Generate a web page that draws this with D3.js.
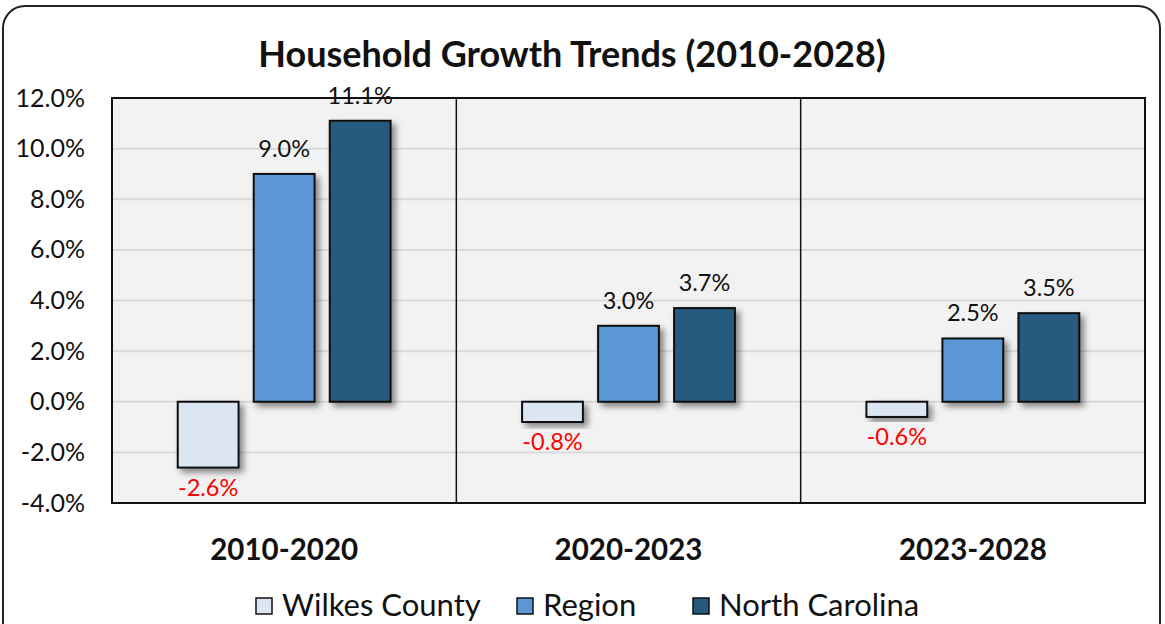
<!DOCTYPE html>
<html>
<head>
<meta charset="utf-8">
<script src="https://cdn.jsdelivr.net/npm/d3@7"></script>
<style>
  body { margin: 0; background: #fff; }
  svg { display: block; font-family: Lato, "Open Sans", sans-serif; }
</style>
</head>
<body>
<script>
// Chart data
const categories = ["2010-2020", "2020-2023", "2023-2028"];
const series = ["Wilkes County", "Region", "North Carolina"];
const wilkes = [-2.6, -0.8, -0.6];
const region = [9.0, 3.0, 2.5];
const northCarolina = [11.1, 3.7, 3.5];
const yTicks = [-4, -2, 0, 2, 4, 6, 8, 10, 12];
const colors = ["#dce6f2", "#5b97d5", "#255a7e"];

const width = 1165, height = 624;
const margin = {top: 98, right: 20, bottom: 121, left: 112};

const svg = d3.select("body").append("svg")
    .attr("width", width)
    .attr("height", height);

// drop shadow for bars
const defs = svg.append("defs");
defs.append("filter")
    .attr("id", "shadow")
    .attr("x", "-20%").attr("y", "-20%")
    .attr("width", "150%").attr("height", "150%")
  .append("feDropShadow")
    .attr("dx", 4).attr("dy", 4)
    .attr("stdDeviation", 3)
    .attr("flood-color", "#000")
    .attr("flood-opacity", 0.45);

// outer rounded frame
svg.append("rect")
    .attr("x", 3).attr("y", 6)
    .attr("width", 1157).attr("height", 700)
    .attr("rx", 22)
    .attr("fill", "none")
    .attr("stroke", "#222")
    .attr("stroke-width", 2);

// title
svg.append("text")
    .attr("x", 572).attr("y", 67)
    .attr("text-anchor", "middle")
    .attr("font-size", 36)
    .attr("font-weight", "bold")
    .attr("fill", "#111")
    .text("Household Growth Trends (2010-2028)");

const x0 = d3.scaleBand()
    .domain(categories)
    .range([margin.left, width - margin.right])
    .padding(0);

const x1 = d3.scaleBand()
    .domain(series)
    .range([0, x0.bandwidth()])
    .paddingInner(0.2)
    .paddingOuter(0.865);

const y = d3.scaleLinear()
    .domain([-4, 12])
    .range([height - margin.bottom, margin.top]);

// plot background
svg.append("rect")
    .attr("x", margin.left).attr("y", margin.top)
    .attr("width", width - margin.left - margin.right)
    .attr("height", height - margin.top - margin.bottom)
    .attr("fill", "#f2f2f2");

// gridlines
svg.append("g")
    .selectAll("line")
    .data(yTicks)
    .join("line")
    .attr("x1", margin.left).attr("x2", width - margin.right)
    .attr("y1", d => y(d)).attr("y2", d => y(d))
    .attr("stroke", "#d9d9d9")
    .attr("stroke-width", 2);

// y axis labels
const yAxis = svg.append("g")
    .attr("transform", `translate(${margin.left},0)`)
    .call(d3.axisLeft(y).tickValues(yTicks).tickSize(0).tickPadding(27)
        .tickFormat(d => d.toFixed(1) + "%"));
yAxis.select(".domain").remove();
yAxis.selectAll("text")
    .attr("font-family", "Lato, sans-serif")
    .attr("font-size", 25)
    .attr("fill", "#111");

// category separators
svg.append("g")
    .selectAll("line")
    .data(categories.slice(1))
    .join("line")
    .attr("x1", d => x0(d)).attr("x2", d => x0(d))
    .attr("y1", margin.top).attr("y2", height - margin.bottom)
    .attr("stroke", "#111")
    .attr("stroke-width", 1.5);

// bars
const rows = categories.map((c, i) => ({
  category: c,
  values: [wilkes[i], region[i], northCarolina[i]]
}));

const groups = svg.append("g")
    .selectAll("g")
    .data(rows)
    .join("g")
    .attr("transform", d => `translate(${x0(d.category)},0)`);

groups.selectAll("rect")
    .data(d => d.values.map((v, j) => ({key: series[j], value: v, idx: j})))
    .join("rect")
    .attr("x", d => x1(d.key))
    .attr("width", x1.bandwidth())
    .attr("y", d => y(Math.max(0, d.value)))
    .attr("height", d => Math.abs(y(d.value) - y(0)))
    .attr("fill", d => colors[d.idx])
    .attr("stroke", "#111")
    .attr("stroke-width", 2)
    .attr("filter", "url(#shadow)");

// value labels
groups.selectAll("text")
    .data(d => d.values.map((v, j) => ({key: series[j], value: v, idx: j})))
    .join("text")
    .attr("x", d => x1(d.key) + x1.bandwidth() / 2)
    .attr("y", d => d.value < 0 ? y(d.value) + 28 : y(d.value) - 17)
    .attr("text-anchor", "middle")
    .attr("font-size", 23.5)
    .attr("fill", d => d.value < 0 ? "#ff0000" : "#111")
    .text(d => d.value.toFixed(1) + "%");

// plot border
svg.append("rect")
    .attr("x", margin.left).attr("y", margin.top)
    .attr("width", width - margin.left - margin.right)
    .attr("height", height - margin.top - margin.bottom)
    .attr("fill", "none")
    .attr("stroke", "#111")
    .attr("stroke-width", 2);

// category labels
svg.append("g")
    .selectAll("text")
    .data(categories)
    .join("text")
    .attr("x", d => x0(d) + x0.bandwidth() / 2)
    .attr("y", 560)
    .attr("text-anchor", "middle")
    .attr("font-size", 29.5)
    .attr("font-weight", "bold")
    .attr("fill", "#111")
    .text(d => d);

// legend
const legendX = [256, 517, 693];
const legend = svg.append("g")
    .selectAll("g")
    .data(series)
    .join("g")
    .attr("transform", (d, i) => `translate(${legendX[i]},598)`);

legend.append("rect")
    .attr("width", 16).attr("height", 16)
    .attr("fill", (d, i) => colors[i])
    .attr("stroke", "#111")
    .attr("stroke-width", 1.5);

legend.append("text")
    .attr("x", 26).attr("y", 18)
    .attr("font-size", 31)
    .attr("fill", "#111")
    .text(d => d);
</script>
</body>
</html>
